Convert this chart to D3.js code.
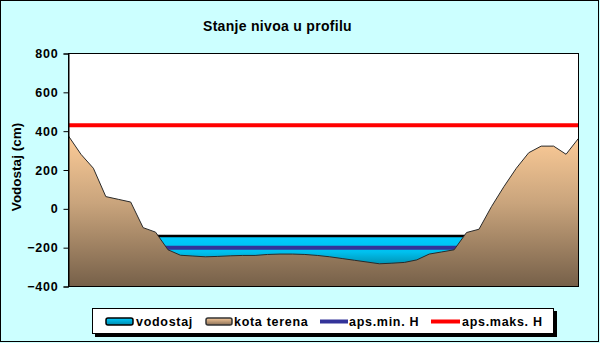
<!DOCTYPE html>
<html>
<head>
<meta charset="utf-8">
<script src="https://cdn.jsdelivr.net/npm/d3@7/dist/d3.min.js"></script>
<style>
  html, body { margin: 0; padding: 0; background: #ccffff; }
  svg { display: block; font-family: "Liberation Sans", Arial, sans-serif; font-weight: bold; }
</style>
</head>
<body>
<svg id="chart" width="600" height="343"></svg>
<script>
// Profile stations (cross-section points, left bank to right bank)
const stations = d3.range(1, 43);

// Ground elevation along the profile (cm)
const kotaTerena = [
  375, 281, 209, 63, 49, 35, -97, -120, -211, -239,
  -243, -247, -245, -242, -240, -240, -235, -233, -233, -235,
  -240, -247, -256, -265, -274, -283, -280, -276, -263, -233,
  -222, -211, -122, -105, 11, 114, 209, 289, 323, 323,
  281, 363
];

// Current water level, present only across the wetted section
const vodostaj = stations.map((s, i) => (i >= 7 && i <= 32) ? -140 : null);

// Absolute minimum and maximum recorded levels (cm)
const apsMinH = -200;
const apsMaksH = 430;

const yTicks = [-400, -200, 0, 200, 400, 600, 800];

const svg = d3.select("#chart");
const plot = { left: 68.5, right: 578.5, top: 53.5, bottom: 286.5 };

const x = d3.scalePoint().domain(stations).range([plot.left, plot.right]);
const y = d3.scaleLinear().domain([-400, 800]).range([plot.bottom, plot.top]);

// Outer chart frame
svg.append("rect")
  .attr("x", 0.5).attr("y", 0.5).attr("width", 598).attr("height", 341)
  .attr("fill", "#ccffff").attr("stroke", "#000");

const defs = svg.append("defs");
const ground = defs.append("linearGradient").attr("id", "ground")
  .attr("gradientUnits", "userSpaceOnUse")
  .attr("x1", 0).attr("x2", 0).attr("y1", y(380)).attr("y2", y(-400));
[["0%", "#fdcc98"], ["45%", "#c9a47c"], ["100%", "#766049"]].forEach(([o, c]) =>
  ground.append("stop").attr("offset", o).attr("stop-color", c));

const water = defs.append("linearGradient").attr("id", "water")
  .attr("gradientUnits", "userSpaceOnUse")
  .attr("x1", 0).attr("x2", 0).attr("y1", y(-140)).attr("y2", y(-290));
[["0%", "#00ccff"], ["55%", "#00c0ee"], ["100%", "#0090b0"]].forEach(([o, c]) =>
  water.append("stop").attr("offset", o).attr("stop-color", c));

const legendGround = defs.append("linearGradient").attr("id", "legGround")
  .attr("x1", 0).attr("x2", 0).attr("y1", 0).attr("y2", 1);
[["0%", "#f6c898"], ["100%", "#8a7058"]].forEach(([o, c]) =>
  legendGround.append("stop").attr("offset", o).attr("stop-color", c));

const legendWater = defs.append("linearGradient").attr("id", "legWater")
  .attr("x1", 0).attr("x2", 0).attr("y1", 0).attr("y2", 1);
[["0%", "#00ccff"], ["100%", "#0088aa"]].forEach(([o, c]) =>
  legendWater.append("stop").attr("offset", o).attr("stop-color", c));

// Plot area
svg.append("rect")
  .attr("x", plot.left).attr("y", plot.top)
  .attr("width", plot.right - plot.left).attr("height", plot.bottom - plot.top)
  .attr("fill", "#fff");

// Water body
const waterArea = d3.area()
  .defined(d => d.v !== null)
  .x(d => x(d.s)).y0(y(-400)).y1(d => y(d.v));
const waterLine = d3.line()
  .defined(d => d.v !== null)
  .x(d => x(d.s)).y(d => y(d.v));
const waterData = stations.map((s, i) => ({ s, v: vodostaj[i] }));
svg.append("path").datum(waterData)
  .attr("d", waterArea).attr("fill", "url(#water)");
svg.append("path").datum(waterData)
  .attr("d", waterLine).attr("fill", "none")
  .attr("stroke", "#000").attr("stroke-width", 2.5);

// Absolute minimum level
svg.append("line")
  .attr("x1", plot.left).attr("x2", plot.right)
  .attr("y1", y(apsMinH)).attr("y2", y(apsMinH))
  .attr("stroke", "#333399").attr("stroke-width", 4);

// Ground profile drawn over the water
const groundData = stations.map((s, i) => ({ s, v: kotaTerena[i] }));
svg.append("path").datum(groundData)
  .attr("d", d3.area().x(d => x(d.s)).y0(y(-400)).y1(d => y(d.v)))
  .attr("fill", "url(#ground)");
svg.append("path").datum(groundData)
  .attr("d", d3.line().x(d => x(d.s)).y(d => y(d.v)))
  .attr("fill", "none").attr("stroke", "#2a2a2a").attr("stroke-width", 1);

// Absolute maximum level
svg.append("line")
  .attr("x1", plot.left).attr("x2", plot.right)
  .attr("y1", y(apsMaksH)).attr("y2", y(apsMaksH))
  .attr("stroke", "#ff0000").attr("stroke-width", 4);

// Plot frame
svg.append("rect")
  .attr("x", plot.left).attr("y", plot.top)
  .attr("width", plot.right - plot.left).attr("height", plot.bottom - plot.top)
  .attr("fill", "none").attr("stroke", "#000");

// Y axis
const yAxis = svg.append("g")
  .attr("transform", `translate(${plot.left},0)`)
  .call(d3.axisLeft(y).tickValues(yTicks).tickSize(5).tickPadding(5).tickFormat(d3.format("d")));
yAxis.select(".domain").attr("stroke", "#000");
yAxis.selectAll(".tick line").attr("stroke", "#000");
yAxis.selectAll(".tick text")
  .attr("fill", "#000").attr("font-size", 12.5).attr("font-weight", "bold")
  .attr("font-family", "Liberation Sans, Arial, sans-serif")
  .style("letter-spacing", "0.8px");

svg.append("text")
  .attr("transform", `translate(21,${(plot.top + plot.bottom) / 2 - 3}) rotate(-90)`)
  .attr("text-anchor", "middle")
  .attr("font-size", 13.5)
  .text("Vodostaj (cm)");

// Title
svg.append("text")
  .attr("x", 203).attr("y", 31)
  .attr("font-size", 14)
  .style("letter-spacing", "0.3px")
  .text("Stanje nivoa u profilu");

// Legend
const leg = svg.append("g");
leg.append("rect").attr("x", 95).attr("y", 311).attr("width", 462).attr("height", 26).attr("fill", "#000");
leg.append("rect").attr("x", 92.5).attr("y", 308.5).attr("width", 461).attr("height", 25)
  .attr("fill", "#fff").attr("stroke", "#000");

const legendItems = [
  { label: "vodostaj", kind: "box", fill: "url(#legWater)", stroke: "#000", x0: 106, x1: 133, tx: 136 },
  { label: "kota terena", kind: "box", fill: "url(#legGround)", stroke: "#333", x0: 206, x1: 232, tx: 234 },
  { label: "aps.min. H", kind: "line", color: "#333399", x0: 320, x1: 348, tx: 349 },
  { label: "aps.maks. H", kind: "line", color: "#ff0000", x0: 431, x1: 460, tx: 462 }
];
const ly = 321.5;
legendItems.forEach(it => {
  if (it.kind === "box") {
    leg.append("rect").attr("x", it.x0).attr("y", ly - 3.5).attr("width", it.x1 - it.x0).attr("height", 7)
      .attr("rx", 2).attr("fill", it.fill).attr("stroke", it.stroke).attr("stroke-width", 1.5);
  } else {
    leg.append("line").attr("x1", it.x0).attr("x2", it.x1).attr("y1", ly).attr("y2", ly)
      .attr("stroke", it.color).attr("stroke-width", 4);
  }
  leg.append("text").attr("x", it.tx).attr("y", ly + 4.5)
    .attr("font-size", 12.5).style("letter-spacing", "0.7px")
    .text(it.label);
});
</script>
</body>
</html>
